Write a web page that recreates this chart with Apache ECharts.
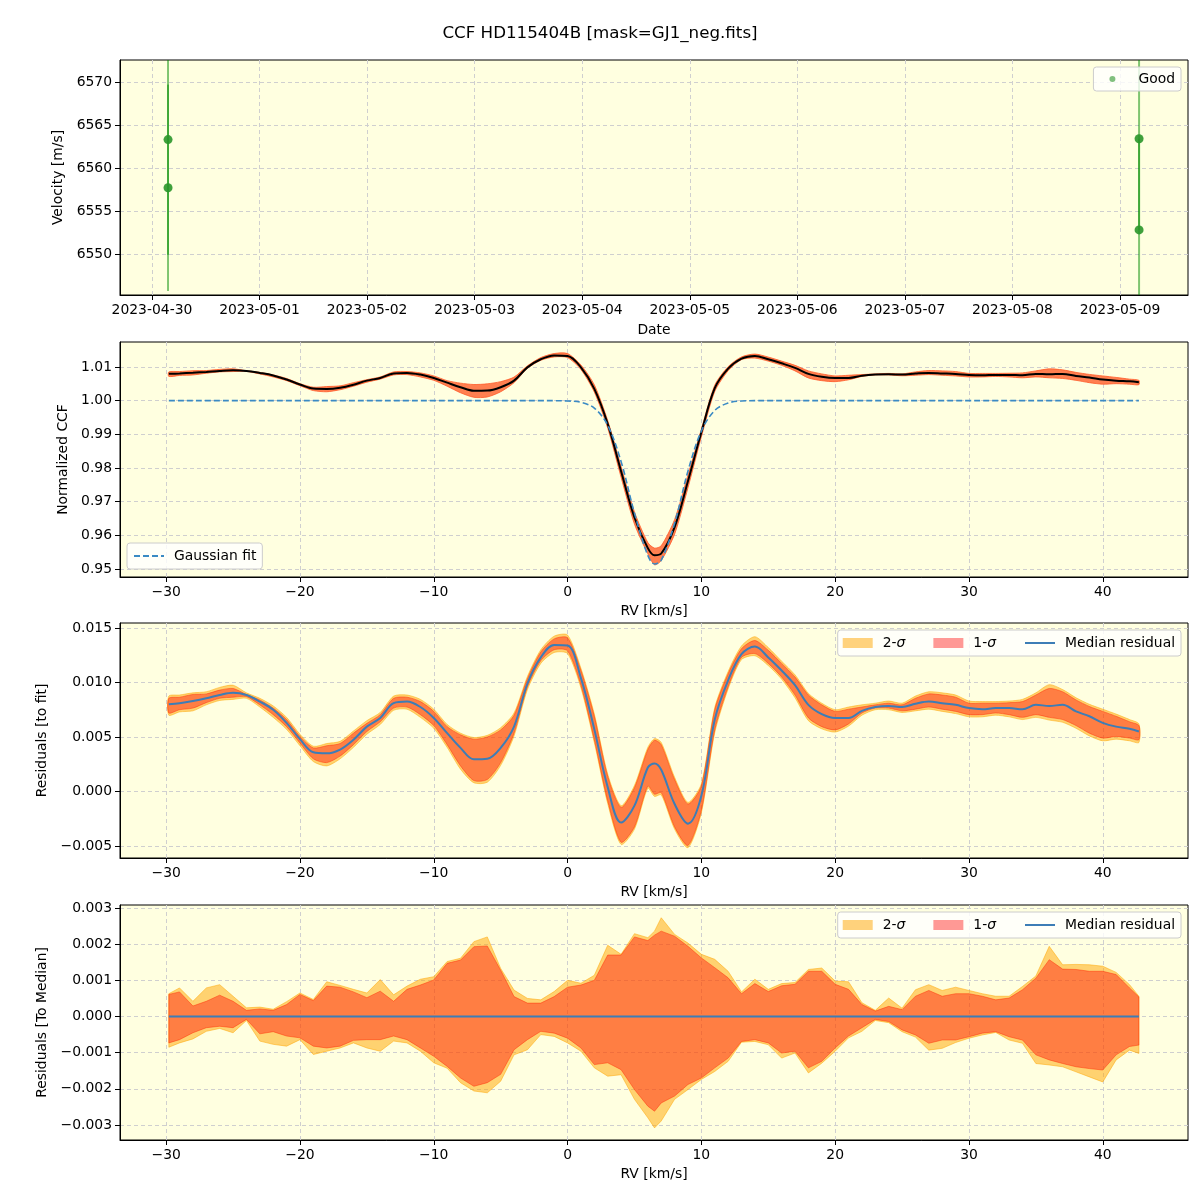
<!DOCTYPE html>
<html>
<head>
<meta charset="utf-8">
<title>CCF HD115404B</title>
<script src="https://cdn.jsdelivr.net/npm/echarts@6/dist/echarts.min.js"></script>
<style>
  html, body { margin: 0; background: #fff; }
  #chart { width: 1200px; height: 1200px; }
</style>
</head>
<body>
<div id="chart"></div>
<script>
// ---- panel 1 : velocities ----
const obsTime = ['2023-04-30T03:35:00Z', '2023-04-30T03:35:00Z', '2023-05-09T04:15:00Z', '2023-05-09T04:15:00Z'];
const vel = [6563.3, 6557.7, 6563.4, 6552.8];
const velErr = [13.4, 12.0, 10.6, 10.6];
const dateTicks = ['2023-04-30', '2023-05-01', '2023-05-02', '2023-05-03', '2023-05-04',
  '2023-05-05', '2023-05-06', '2023-05-07', '2023-05-08', '2023-05-09'];

// ---- RV grid shared by panels 2-4 ----
const rv = [-29.8, -29, -28, -27, -26, -25, -24, -23, -22, -21,
  -20, -19, -18, -17, -16, -15, -14, -13, -12, -11,
  -10, -9, -8, -7, -6, -5, -4, -3, -2, -1,
  0, 1, 2, 3, 4, 5, 6, 6.5, 7, 8,
  9, 10, 11, 12, 13, 14, 15, 16, 17, 18,
  19, 20, 21, 22, 23, 24, 25, 26, 27, 28,
  29, 30, 31, 32, 33, 34, 35, 36, 37, 38,
  39, 40, 41, 42, 42.7];
const rvTicks = [-30, -20, -10, 0, 10, 20, 30, 40];

// ---- panel 2 : normalized CCF ----
const ccf = [1.00800, 1.00810, 1.00830, 1.00855, 1.00885, 1.00905, 1.00885, 1.00825, 1.00750, 1.00630,
  1.00480, 1.00360, 1.00350, 1.00385, 1.00475, 1.00595, 1.00675, 1.00810, 1.00825, 1.00775,
  1.00675, 1.00535, 1.00400, 1.00295, 1.00300, 1.00400, 1.00595, 1.00990, 1.01230, 1.01345,
  1.01330, 1.00990, 1.00350, 0.99310, 0.97905, 0.96530, 0.95620, 0.95408, 0.95460, 0.96245,
  0.97615, 0.99060, 1.00370, 1.00950, 1.01250, 1.01330, 1.01230, 1.01110, 1.00975, 1.00795,
  1.00710, 1.00675, 1.00675, 1.00740, 1.00775, 1.00785, 1.00775, 1.00805, 1.00825, 1.00810,
  1.00795, 1.00765, 1.00755, 1.00765, 1.00765, 1.00755, 1.00795, 1.00785, 1.00795, 1.00735,
  1.00690, 1.00630, 1.00595, 1.00575, 1.00550];
const ccfHi = [1.00855, 1.00865, 1.00890, 1.00895, 1.00930, 1.00945, 1.00890, 1.00840, 1.00765, 1.00660,
  1.00505, 1.00400, 1.00420, 1.00440, 1.00535, 1.00625, 1.00705, 1.00855, 1.00865, 1.00825,
  1.00735, 1.00595, 1.00520, 1.00480, 1.00500, 1.00565, 1.00700, 1.01035, 1.01280, 1.01400,
  1.01400, 1.01060, 1.00470, 0.99410, 0.98045, 0.96695, 0.95785, 0.95620, 0.95690, 0.96470,
  0.97795, 0.99150, 1.00460, 1.01010, 1.01300, 1.01385, 1.01295, 1.01175, 1.01050, 1.00885,
  1.00795, 1.00735, 1.00755, 1.00775, 1.00795, 1.00810, 1.00795, 1.00855, 1.00895, 1.00885,
  1.00865, 1.00810, 1.00810, 1.00810, 1.00815, 1.00825, 1.00885, 1.00945, 1.00915, 1.00840,
  1.00780, 1.00735, 1.00690, 1.00640, 1.00605];
const ccfLo = [1.00720, 1.00750, 1.00765, 1.00815, 1.00855, 1.00865, 1.00870, 1.00795, 1.00705, 1.00595,
  1.00445, 1.00300, 1.00265, 1.00325, 1.00430, 1.00550, 1.00640, 1.00765, 1.00775, 1.00705,
  1.00605, 1.00430, 1.00235, 1.00100, 1.00110, 1.00265, 1.00535, 1.00960, 1.01200, 1.01300,
  1.01280, 1.00925, 1.00255, 0.99185, 0.97725, 0.96335, 0.95450, 0.95125, 0.95250, 0.96035,
  0.97415, 0.98925, 1.00275, 1.00890, 1.01220, 1.01265, 1.01175, 1.01050, 1.00885, 1.00675,
  1.00595, 1.00565, 1.00620, 1.00720, 1.00765, 1.00765, 1.00740, 1.00755, 1.00775, 1.00755,
  1.00735, 1.00705, 1.00705, 1.00720, 1.00705, 1.00680, 1.00705, 1.00680, 1.00660, 1.00605,
  1.00535, 1.00490, 1.00505, 1.00490, 1.00475];
const gaussFit = [1, 1, 1, 1, 1, 1, 1, 1, 1, 1,
  1, 1, 1, 1, 1, 1, 1, 1, 1, 1,
  1, 1, 1, 1, 1, 1, 1, 1, 1, 1,
  0.9999, 0.9995, 0.9978, 0.9927, 0.9819, 0.9666, 0.9540, 0.9515, 0.9526, 0.9636,
  0.9791, 0.9910, 0.9971, 0.9993, 0.9999, 1, 1, 1, 1, 1,
  1, 1, 1, 1, 1, 1, 1, 1, 1, 1,
  1, 1, 1, 1, 1, 1, 1, 1, 1, 1,
  1, 1, 1, 1, 1];

// ---- panel 3 : residuals to fit ----
const resMed = [0.00800, 0.00810, 0.00830, 0.00855, 0.00885, 0.00905, 0.00885, 0.00825, 0.00750, 0.00630,
  0.00480, 0.00360, 0.00350, 0.00385, 0.00475, 0.00595, 0.00675, 0.00810, 0.00825, 0.00775,
  0.00675, 0.00535, 0.00400, 0.00295, 0.00300, 0.00400, 0.00595, 0.00990, 0.01230, 0.01345,
  0.01340, 0.01040, 0.00570, 0.00040, -0.00285, -0.00130, 0.00220, 0.00258, 0.00200, -0.00115,
  -0.00295, -0.00040, 0.00660, 0.01020, 0.01260, 0.01330, 0.01230, 0.01110, 0.00975, 0.00795,
  0.00710, 0.00675, 0.00675, 0.00740, 0.00775, 0.00785, 0.00775, 0.00805, 0.00825, 0.00810,
  0.00795, 0.00765, 0.00755, 0.00765, 0.00765, 0.00755, 0.00795, 0.00785, 0.00795, 0.00735,
  0.00690, 0.00630, 0.00595, 0.00575, 0.00550];
const resHi1 = [0.00855, 0.00865, 0.00890, 0.00895, 0.00930, 0.00945, 0.00890, 0.00840, 0.00765, 0.00660,
  0.00505, 0.00400, 0.00420, 0.00440, 0.00535, 0.00625, 0.00705, 0.00855, 0.00865, 0.00825,
  0.00735, 0.00595, 0.00520, 0.00480, 0.00500, 0.00565, 0.00700, 0.01035, 0.01280, 0.01400,
  0.01410, 0.01110, 0.00690, 0.00140, -0.00145, 0.00035, 0.00385, 0.00470, 0.00430, 0.00110,
  -0.00115, 0.00050, 0.00750, 0.01080, 0.01310, 0.01385, 0.01295, 0.01175, 0.01050, 0.00885,
  0.00795, 0.00735, 0.00755, 0.00775, 0.00795, 0.00810, 0.00795, 0.00855, 0.00895, 0.00885,
  0.00865, 0.00810, 0.00810, 0.00810, 0.00815, 0.00825, 0.00885, 0.00945, 0.00915, 0.00840,
  0.00780, 0.00735, 0.00690, 0.00640, 0.00605];
const resLo1 = [0.00720, 0.00750, 0.00765, 0.00815, 0.00855, 0.00865, 0.00870, 0.00795, 0.00705, 0.00595,
  0.00445, 0.00300, 0.00265, 0.00325, 0.00430, 0.00550, 0.00640, 0.00765, 0.00775, 0.00705,
  0.00605, 0.00430, 0.00235, 0.00100, 0.00110, 0.00265, 0.00535, 0.00960, 0.01200, 0.01300,
  0.01290, 0.00975, 0.00475, -0.00085, -0.00465, -0.00325, 0.00050, -0.00025, -0.00010, -0.00325,
  -0.00495, -0.00175, 0.00565, 0.00960, 0.01230, 0.01265, 0.01175, 0.01050, 0.00885, 0.00675,
  0.00595, 0.00565, 0.00620, 0.00720, 0.00765, 0.00765, 0.00740, 0.00755, 0.00775, 0.00755,
  0.00735, 0.00705, 0.00705, 0.00720, 0.00705, 0.00680, 0.00705, 0.00680, 0.00660, 0.00605,
  0.00535, 0.00490, 0.00505, 0.00490, 0.00475];
const resHi2 = [0.00875, 0.00885, 0.00905, 0.00915, 0.00955, 0.00975, 0.00905, 0.00855, 0.00785, 0.00680,
  0.00525, 0.00415, 0.00440, 0.00460, 0.00555, 0.00650, 0.00725, 0.00875, 0.00885, 0.00845,
  0.00755, 0.00615, 0.00535, 0.00495, 0.00515, 0.00585, 0.00720, 0.01055, 0.01300, 0.01425,
  0.01435, 0.01130, 0.00710, 0.00160, -0.00130, 0.00055, 0.00405, 0.00485, 0.00450, 0.00130,
  -0.00100, 0.00070, 0.00770, 0.01100, 0.01335, 0.01420, 0.01320, 0.01195, 0.01070, 0.00900,
  0.00810, 0.00750, 0.00775, 0.00795, 0.00810, 0.00830, 0.00810, 0.00875, 0.00915, 0.00905,
  0.00885, 0.00830, 0.00825, 0.00825, 0.00830, 0.00845, 0.00905, 0.00980, 0.00935, 0.00860,
  0.00800, 0.00755, 0.00710, 0.00660, 0.00620];
const resLo2 = [0.00700, 0.00730, 0.00740, 0.00795, 0.00835, 0.00845, 0.00855, 0.00775, 0.00680, 0.00570,
  0.00420, 0.00275, 0.00235, 0.00300, 0.00405, 0.00525, 0.00615, 0.00745, 0.00755, 0.00680,
  0.00580, 0.00405, 0.00205, 0.00080, 0.00085, 0.00240, 0.00510, 0.00935, 0.01175, 0.01275,
  0.01265, 0.00950, 0.00450, -0.00110, -0.00485, -0.00345, 0.00030, -0.00045, -0.00030, -0.00345,
  -0.00515, -0.00195, 0.00540, 0.00940, 0.01210, 0.01245, 0.01155, 0.01030, 0.00860, 0.00650,
  0.00575, 0.00545, 0.00600, 0.00700, 0.00750, 0.00750, 0.00725, 0.00740, 0.00755, 0.00735,
  0.00715, 0.00685, 0.00685, 0.00700, 0.00685, 0.00660, 0.00680, 0.00655, 0.00635, 0.00580,
  0.00510, 0.00465, 0.00480, 0.00465, 0.00450];

// ---- panel 4 : residuals to median ----
const medHi1 = [0.00061, 0.00068, 0.00029, 0.00042, 0.00059, 0.00042, 0.00017, 0.00021, 0.00017, 0.00033,
  0.00061, 0.00044, 0.00084, 0.00081, 0.00068, 0.00052, 0.00070, 0.00042, 0.00075, 0.00087,
  0.00101, 0.00147, 0.00156, 0.00193, 0.00195, 0.00128, 0.00055, 0.00037, 0.00037, 0.00055,
  0.00081, 0.00087, 0.00100, 0.00170, 0.00170, 0.00220, 0.00210, 0.00225, 0.00236, 0.00222,
  0.00194, 0.00162, 0.00135, 0.00107, 0.00063, 0.00091, 0.00069, 0.00085, 0.00089, 0.00125,
  0.00125, 0.00089, 0.00075, 0.00033, 0.00015, 0.00028, 0.00019, 0.00056, 0.00072, 0.00056,
  0.00063, 0.00063, 0.00056, 0.00046, 0.00051, 0.00074, 0.00106, 0.00157, 0.00131, 0.00130,
  0.00125, 0.00125, 0.00116, 0.00079, 0.00054];
const medHi2 = [0.00063, 0.00079, 0.00042, 0.00079, 0.00088, 0.00056, 0.00024, 0.00026, 0.00020, 0.00041,
  0.00065, 0.00047, 0.00096, 0.00086, 0.00075, 0.00065, 0.00102, 0.00060, 0.00084, 0.00103,
  0.00110, 0.00152, 0.00161, 0.00207, 0.00220, 0.00133, 0.00073, 0.00050, 0.00046, 0.00069,
  0.00100, 0.00092, 0.00114, 0.00197, 0.00172, 0.00229, 0.00218, 0.00236, 0.00273, 0.00227,
  0.00203, 0.00172, 0.00158, 0.00125, 0.00068, 0.00103, 0.00075, 0.00091, 0.00094, 0.00130,
  0.00134, 0.00098, 0.00096, 0.00038, 0.00017, 0.00051, 0.00023, 0.00074, 0.00088, 0.00072,
  0.00081, 0.00072, 0.00063, 0.00056, 0.00056, 0.00083, 0.00112, 0.00194, 0.00143, 0.00144,
  0.00143, 0.00139, 0.00122, 0.00088, 0.00056];
const medLo1 = [-0.00073, -0.00064, -0.00045, -0.00031, -0.00027, -0.00031, -0.00008, -0.00048, -0.00042, -0.00054,
  -0.00059, -0.00082, -0.00087, -0.00082, -0.00066, -0.00064, -0.00064, -0.00054, -0.00064, -0.00087,
  -0.00110, -0.00138, -0.00170, -0.00193, -0.00183, -0.00160, -0.00092, -0.00064, -0.00041, -0.00046,
  -0.00060, -0.00087, -0.00133, -0.00128, -0.00147, -0.00202, -0.00248, -0.00262, -0.00239, -0.00220,
  -0.00188, -0.00170, -0.00142, -0.00115, -0.00069, -0.00064, -0.00073, -0.00101, -0.00096, -0.00142,
  -0.00124, -0.00087, -0.00054, -0.00031, -0.00008, -0.00014, -0.00037, -0.00051, -0.00074, -0.00065,
  -0.00065, -0.00056, -0.00046, -0.00042, -0.00056, -0.00065, -0.00106, -0.00120, -0.00130, -0.00139,
  -0.00144, -0.00148, -0.00106, -0.00083, -0.00079];
const medLo2 = [-0.00085, -0.00073, -0.00062, -0.00041, -0.00033, -0.00045, -0.00011, -0.00068, -0.00077, -0.00082,
  -0.00064, -0.00105, -0.00096, -0.00087, -0.00073, -0.00087, -0.00096, -0.00068, -0.00073, -0.00096,
  -0.00128, -0.00143, -0.00183, -0.00206, -0.00211, -0.00179, -0.00106, -0.00092, -0.00050, -0.00055,
  -0.00073, -0.00096, -0.00142, -0.00165, -0.00161, -0.00229, -0.00280, -0.00308, -0.00289, -0.00229,
  -0.00202, -0.00174, -0.00152, -0.00124, -0.00071, -0.00069, -0.00078, -0.00115, -0.00101, -0.00156,
  -0.00129, -0.00096, -0.00059, -0.00041, -0.00011, -0.00017, -0.00042, -0.00057, -0.00093, -0.00088,
  -0.00072, -0.00060, -0.00051, -0.00044, -0.00065, -0.00074, -0.00130, -0.00134, -0.00139, -0.00153,
  -0.00167, -0.00181, -0.00120, -0.00093, -0.00102];
const medZero = [0, 0]; // median residual to median, at first and last RV

const FONT = 'DejaVu Sans';
const FS = 13.9;
const BG = '#FFFFE0';
const FILL2 = 'rgba(255,165,0,0.5)';
const FILL1 = 'rgba(255,0,0,0.4)';
const BLUE = '#3d7db6';
const minus = s => String(s).replace('-', '\u2212');

// dates -> epoch ms for a plain value axis
const obsMs = obsTime.map(t => Date.parse(t));
const dateTickMs = dateTicks.map(d => Date.parse(d + 'T00:00:00Z'));

const chart = echarts.init(document.getElementById('chart'));

const gridBase = { left: 120, width: 1068, height: 235, show: true, backgroundColor: BG,
  borderColor: '#000', borderWidth: 1, outerBoundsMode: 'none' };
const splitStyle = { show: true, lineStyle: { color: '#cfcfcf', type: [4, 3], width: 1 } };
const tickStyle = { show: true, length: 5, lineStyle: { color: '#000' } };

function rvAxis(i) {
  return {
    type: 'value', gridIndex: i, min: -33.45, max: 46.37,
    axisLine: { show: true, onZero: false, lineStyle: { color: '#000' } },
    axisTick: Object.assign({ customValues: rvTicks }, tickStyle),
    axisLabel: { customValues: rvTicks, color: '#000', fontSize: FS, margin: 8, formatter: v => minus(v) },
    splitLine: splitStyle,
    name: 'RV [km/s]', nameLocation: 'middle', nameGap: 27,
    nameTextStyle: { color: '#000', fontSize: FS }
  };
}
function yAxisOf(i, min, max, ticks, digits, name, gap) {
  return {
    type: 'value', gridIndex: i, min, max,
    axisLine: { show: true, onZero: false, lineStyle: { color: '#000' } },
    axisTick: Object.assign({ customValues: ticks }, tickStyle),
    axisLabel: { customValues: ticks, color: '#000', fontSize: FS, margin: 8,
      formatter: v => minus(v.toFixed(digits)) },
    splitLine: splitStyle,
    name, nameLocation: 'middle', nameGap: gap,
    nameTextStyle: { color: '#000', fontSize: FS }
  };
}

function band(name, axis, lo, hi, fill, stroke, smooth) {
  return {
    name, type: 'custom', xAxisIndex: axis, yAxisIndex: axis,
    itemStyle: { color: fill },
    data: rv.map((x, i) => [x, lo[i], hi[i]]),
    encode: { x: 0, y: [1, 2] },
    renderItem(params, api) {
      if (params.dataIndex !== 0) return null;
      const pts = [];
      for (let i = 0; i < rv.length; i++) pts.push(api.coord([rv[i], hi[i]]));
      for (let i = rv.length - 1; i >= 0; i--) pts.push(api.coord([rv[i], lo[i]]));
      return { type: 'polygon', shape: { points: pts, smooth },
        style: { fill, stroke, lineWidth: 1 } };
    }
  };
}
function line(name, axis, ys, color, width, type, z) {
  return {
    name, type: 'line', xAxisIndex: axis, yAxisIndex: axis, z,
    data: rv.map((x, i) => [x, ys[i]]),
    showSymbol: false, symbol: 'none', smooth: 0.35,
    lineStyle: { color, width, type }, itemStyle: { color }
  };
}

// legend entry for a line: keep the line, hide the marker
const lineEntry = name => ({ name, itemStyle: { color: 'rgba(0,0,0,0)', opacity: 0, borderWidth: 0 } });

const richText = {
  fontFamily: FONT, fontSize: FS, color: '#000',
  rich: {
    g: { width: 5 },
    p: { width: 18 },
    i: { fontStyle: 'italic', fontFamily: FONT, fontSize: FS, color: '#000' }
  }
};
const legendBox = { backgroundColor: 'rgba(255,255,255,0.8)', borderColor: '#cccccc',
  borderWidth: 1, borderRadius: 3 };
function bandLegend(top) {
  return Object.assign({
    right: 19, top, orient: 'horizontal', itemWidth: 30, itemHeight: 10, itemGap: 28,
    padding: [6, 6, 6, 5],
    data: [{ name: '2-σ', icon: 'rect' }, { name: '1-σ', icon: 'rect' }, lineEntry('Median residual')],
    textStyle: richText,
    formatter: n => '{g| }' + n.replace('σ', '{i|σ}')
  }, legendBox);
}

const option = {
  animation: false,
  backgroundColor: '#fff',
  textStyle: { fontFamily: FONT },
  title: {
    text: 'CCF HD115404B [mask=GJ1_neg.fits]', left: 'center', top: 20,
    textStyle: { fontFamily: FONT, fontSize: 16.7, fontWeight: 'normal', color: '#000' }
  },
  grid: [
    Object.assign({ top: 60 }, gridBase),
    Object.assign({ top: 342 }, gridBase),
    Object.assign({ top: 623 }, gridBase),
    Object.assign({ top: 905 }, gridBase)
  ],
  legend: [
    Object.assign({
      right: 19, top: 67, itemWidth: 6, itemHeight: 6, padding: [5, 6, 5, 16],
      data: [{ name: 'Good', icon: 'circle', itemStyle: { color: 'rgba(0,128,0,0.55)' } }], textStyle: richText,
      formatter: n => '{p| }' + n
    }, legendBox),
    Object.assign({
      left: 127, top: 543, itemWidth: 30, itemHeight: 10, padding: [6, 6, 6, 6],
      data: [lineEntry('Gaussian fit')], textStyle: richText,
      formatter: n => '{g| }' + n
    }, legendBox),
    bandLegend(630),
    bandLegend(912)
  ],
  xAxis: [
    {
      type: 'value', gridIndex: 0,
      min: Date.parse('2023-04-29T16:52:00Z'), max: Date.parse('2023-05-09T15:10:00Z'),
      axisLine: { show: true, onZero: false, lineStyle: { color: '#000' } },
      axisTick: Object.assign({ customValues: dateTickMs }, tickStyle),
      axisLabel: { customValues: dateTickMs, color: '#000', fontSize: FS, margin: 8,
        formatter: v => new Date(v).toISOString().slice(0, 10) },
      splitLine: splitStyle,
      name: 'Date', nameLocation: 'middle', nameGap: 28,
      nameTextStyle: { color: '#000', fontSize: FS }
    },
    rvAxis(1), rvAxis(2), rvAxis(3)
  ],
  yAxis: [
    yAxisOf(0, 6545.23, 6572.56, [6550, 6555, 6560, 6565, 6570], 0, 'Velocity [m/s]', 48),
    yAxisOf(1, 0.94762, 1.01743, [0.95, 0.96, 0.97, 0.98, 0.99, 1.00, 1.01], 2, 'Normalized CCF', 43),
    yAxisOf(2, -0.0061, 0.015457, [-0.005, 0, 0.005, 0.010, 0.015], 3, 'Residuals [to fit]', 63),
    yAxisOf(3, -0.003415, 0.003083, [-0.003, -0.002, -0.001, 0, 0.001, 0.002, 0.003], 3, 'Residuals [To Median]', 63)
  ],
  series: [
    {
      type: 'custom', xAxisIndex: 0, yAxisIndex: 0,
      data: obsMs.map((t, i) => [t, vel[i], velErr[i]]),
      encode: { x: 0, y: 1 },
      renderItem(params, api) {
        const t = api.value(0), v = api.value(1), e = api.value(2);
        const top = api.coord([t, v + e]);
        const bot = api.coord([t, v - e]);
        const cs = params.coordSys;
        return {
          type: 'line',
          shape: { x1: top[0], y1: Math.max(top[1], cs.y), x2: bot[0], y2: Math.min(bot[1], cs.y + cs.height) },
          style: { stroke: 'rgba(0,140,0,0.5)', lineWidth: 2 }
        };
      }
    },
    {
      name: 'Good', type: 'scatter', xAxisIndex: 0, yAxisIndex: 0,
      data: obsMs.map((t, i) => [t, vel[i]]),
      symbolSize: 9, itemStyle: { color: '#2a962a', opacity: 0.9 }
    },

    band('CCF band', 1, ccfLo, ccfHi, '#ff7f50', 'rgba(255,90,40,0.8)', 0.25),
    line('CCF', 1, ccf, '#000', 2, 'solid', 3),
    line('Gaussian fit', 1, gaussFit, '#3a8ac4', 1.6, [6, 3], 4),

    band('2-σ', 2, resLo2, resHi2, FILL2, 'rgba(255,165,0,0.5)', 0.25),
    band('1-σ', 2, resLo1, resHi1, FILL1, 'rgba(255,40,0,0.45)', 0.25),
    line('Median residual', 2, resMed, BLUE, 2, 'solid', 3),

    band('2-σ', 3, medLo2, medHi2, FILL2, 'rgba(255,165,0,0.5)', 0),
    band('1-σ', 3, medLo1, medHi1, FILL1, 'rgba(255,40,0,0.45)', 0),
    {
      name: 'Median residual', type: 'line', xAxisIndex: 3, yAxisIndex: 3, z: 3,
      data: [[rv[0], medZero[0]], [rv[rv.length - 1], medZero[1]]],
      showSymbol: false, symbol: 'none',
      lineStyle: { color: BLUE, width: 2 }, itemStyle: { color: BLUE }
    }
  ]
};

chart.setOption(option);
</script>
</body>
</html>
